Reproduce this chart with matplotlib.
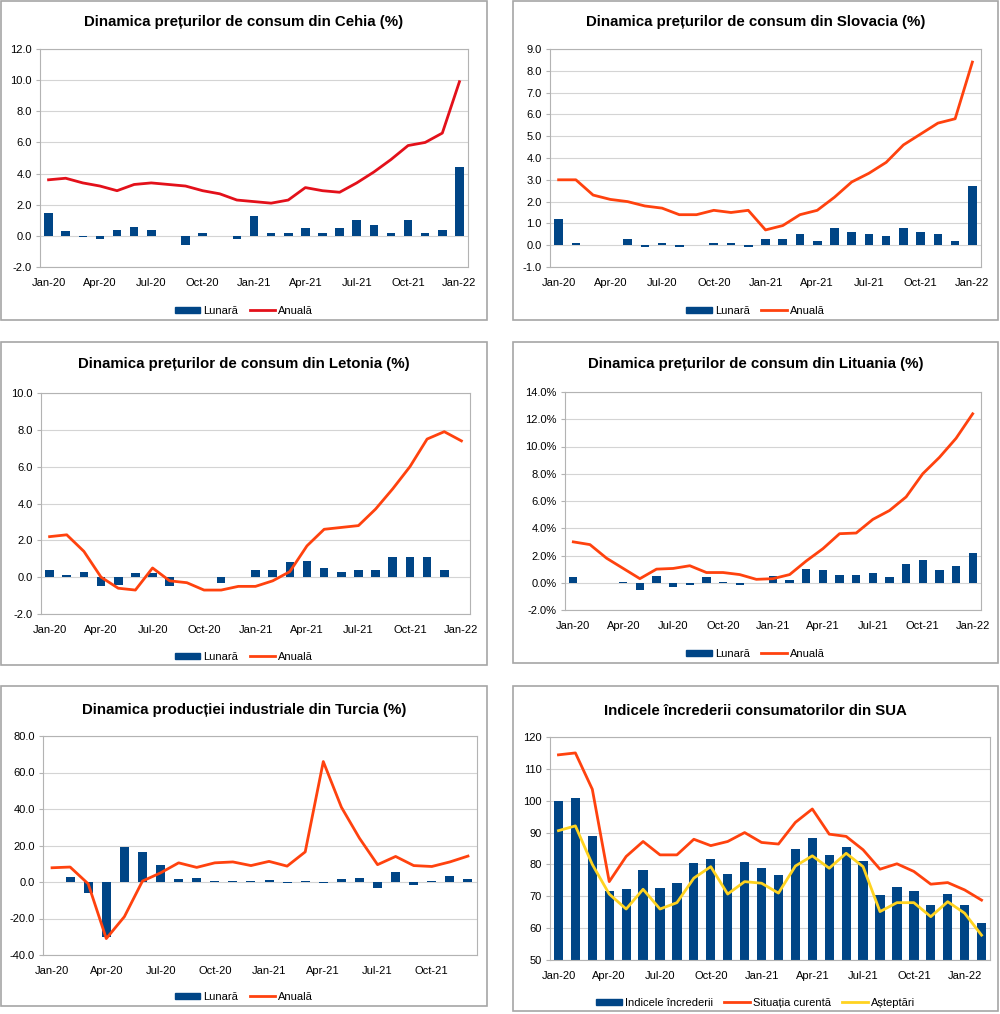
import matplotlib
matplotlib.use("Agg")
import matplotlib.pyplot as plt
import numpy as np
from matplotlib.patches import Rectangle, Patch
from matplotlib.lines import Line2D

plt.rcParams['font.family'] = ['Liberation Sans', 'DejaVu Sans']

# ---- data ----
tick_labels_25 = ['Jan-20', 'Apr-20', 'Jul-20', 'Oct-20', 'Jan-21', 'Apr-21', 'Jul-21', 'Oct-21', 'Jan-22']
tick_labels_tr = ['Jan-20', 'Apr-20', 'Jul-20', 'Oct-20', 'Jan-21', 'Apr-21', 'Jul-21', 'Oct-21']

cz_lunara = [1.5, 0.3, -0.1, -0.2, 0.4, 0.6, 0.4, 0.0, -0.6, 0.2, 0.0, -0.2,
             1.3, 0.2, 0.2, 0.5, 0.2, 0.5, 1.0, 0.7, 0.2, 1.0, 0.2, 0.4, 4.4]
cz_anuala = [3.6, 3.7, 3.4, 3.2, 2.9, 3.3, 3.4, 3.3, 3.2, 2.9, 2.7, 2.3,
             2.2, 2.1, 2.3, 3.1, 2.9, 2.8, 3.4, 4.1, 4.9, 5.8, 6.0, 6.6, 9.9]

sk_lunara = [1.2, 0.1, 0.0, 0.0, 0.3, -0.1, 0.1, -0.1, 0.0, 0.1, 0.1, -0.1,
             0.3, 0.3, 0.5, 0.2, 0.8, 0.6, 0.5, 0.4, 0.8, 0.6, 0.5, 0.2, 2.7]
sk_anuala = [3.0, 3.0, 2.3, 2.1, 2.0, 1.8, 1.7, 1.4, 1.4, 1.6, 1.5, 1.6,
             0.7, 0.9, 1.4, 1.6, 2.2, 2.9, 3.3, 3.8, 4.6, 5.1, 5.6, 5.8, 8.4]

lv_lunara = [0.4, 0.1, 0.3, -0.5, -0.4, 0.2, 0.2, -0.5, 0.0, 0.0, -0.3, 0.0,
             0.4, 0.4, 0.8, 0.9, 0.5, 0.3, 0.4, 0.4, 1.1, 1.1, 1.1, 0.4, 0.0]
lv_anuala = [2.2, 2.3, 1.4, 0.0, -0.6, -0.7, 0.5, -0.2, -0.3, -0.7, -0.7, -0.5,
             -0.5, -0.2, 0.3, 1.7, 2.6, 2.7, 2.8, 3.7, 4.8, 6.0, 7.5, 7.9, 7.4]

lt_lunara = [0.45, 0.0, -0.05, 0.05, -0.5, 0.5, -0.3, -0.2, 0.4, 0.05, -0.15, 0.0,
             0.5, 0.2, 1.0, 0.95, 0.55, 0.55, 0.7, 0.4, 1.4, 1.65, 0.95, 1.2, 2.15]
lt_anuala = [3.0, 2.8, 1.8, 1.05, 0.3, 1.0, 1.05, 1.25, 0.75, 0.75, 0.6, 0.25,
             0.3, 0.6, 1.6, 2.5, 3.6, 3.65, 4.65, 5.3, 6.3, 8.0, 9.2, 10.6, 12.4]

tr_lunara = [0.0, 2.5, -6.0, -30.0, 19.0, 16.5, 9.5, 1.5, 2.0, 0.3, 0.8, 0.8,
             1.0, -0.3, 0.7, -0.8, 1.5, 2.0, -3.5, 5.5, -1.5, 0.4, 3.2, 1.5]
tr_anuala = [7.8, 8.2, -1.0, -31.0, -19.0, 0.5, 5.0, 10.5, 8.0, 10.5, 11.0, 9.0,
             11.3, 8.7, 16.5, 66.0, 41.0, 24.0, 9.5, 14.0, 9.0, 8.5, 11.0, 14.2]

us_incredere = [99.8, 101.0, 89.0, 71.8, 72.3, 78.1, 72.5, 74.1, 80.4, 81.8, 76.9, 80.7,
                79.0, 76.8, 84.9, 88.3, 82.9, 85.5, 81.2, 70.3, 72.8, 71.7, 67.4, 70.6,
                67.2, 61.7]
us_curenta = [114.4, 115.0, 103.6, 74.6, 82.5, 87.2, 83.0, 83.0, 87.9, 85.9, 87.2, 90.0,
              86.9, 86.4, 93.2, 97.4, 89.5, 88.8, 84.6, 78.5, 80.2, 77.8, 73.8, 74.3,
              72.0, 68.8]
us_asteptari = [90.6, 92.1, 80.0, 70.7, 66.0, 72.2, 66.0, 68.0, 75.7, 79.3, 70.7, 74.6,
                74.1, 71.0, 79.5, 82.7, 78.8, 83.5, 79.3, 65.2, 68.0, 68.0, 63.6, 68.3,
                64.7, 57.8]

# ---- style ----
BLUE = '#004586'
ORANGE = '#ff420e'
RED = '#e3101a'
YELLOW = '#ffd320'
GRID = '#d4d4d4'

W, H = 1000, 1014
fig = plt.figure(figsize=(W / 100, H / 100), dpi=100)


def frac(l, t, r, b):
    return [l / W, 1 - b / H, (r - l) / W, (b - t) / H]


def panel(box, ax_box, title, title_y, leg_y):
    l, t, r, b = box
    fig.patches.append(Rectangle((l / W, 1 - b / H), (r - l) / W, (b - t) / H,
                                 transform=fig.transFigure, fill=False,
                                 edgecolor='#a6a6a6', lw=1.2))
    fig.text((l + r) / 2 / W, 1 - title_y / H, title, ha='center', va='center',
             fontsize=10.8, fontweight='bold')
    ax = fig.add_axes(frac(*ax_box))
    for s in ax.spines.values():
        s.set_color('#b3b3b3')
        s.set_linewidth(0.8)
    ax.grid(axis='y', color=GRID, lw=0.8)
    ax.set_axisbelow(True)
    ax.tick_params(axis='y', length=3, color='#b3b3b3', labelsize=8, pad=3)
    ax.tick_params(axis='x', length=0, labelsize=8, pad=8)
    return ax, (l + r) / 2 / W, 1 - leg_y / H


def finish(ax, n, labels, ylim, step, fmt, legend_items, lx, ly):
    ax.set_xlim(-0.5, n - 0.5)
    ax.set_xticks(range(0, n, 3))
    ax.set_xticklabels(labels)
    ax.set_ylim(*ylim)
    ticks = np.arange(ylim[0], ylim[1] + step / 2, step)
    ax.set_yticks(ticks)
    ax.set_yticklabels([fmt.format(v) for v in ticks])
    handles = []
    names = []
    for kind, color, name in legend_items:
        if kind == 'bar':
            handles.append(Patch(facecolor=color, edgecolor=color))
        else:
            handles.append(Line2D([], [], color=color, lw=2))
        names.append(name)
    fig.legend(handles, names, loc='center', bbox_to_anchor=(lx, ly),
               bbox_transform=fig.transFigure, ncol=len(handles), frameon=False,
               fontsize=8, handlelength=2.3, handletextpad=0.3,
               columnspacing=1.0, handleheight=0.55)


def price_panel(box, ax_box, title, ty, ly, monthly, annual, line_color,
                labels, ylim, step, fmt):
    ax, lx, lyf = panel(box, ax_box, title, ty, ly)
    x = np.arange(len(monthly))
    ax.bar(x, monthly, width=0.5, color=BLUE, zorder=2)
    ax.plot(np.arange(len(annual)), annual, color=line_color, lw=2, zorder=3)
    finish(ax, len(monthly), labels, ylim, step, fmt,
           [('bar', BLUE, 'Lunară'), ('line', line_color, 'Anuală')], lx, lyf)
    return ax


price_panel((1, 1, 487, 320), (40, 49, 468, 267),
            'Dinamica prețurilor de consum din Cehia (%)', 22, 311,
            cz_lunara, cz_anuala, RED, tick_labels_25, (-2, 12), 2, '{:.1f}')

price_panel((513, 1, 998, 320), (550, 49, 981, 267),
            'Dinamica prețurilor de consum din Slovacia (%)', 22, 311,
            sk_lunara, sk_anuala, ORANGE, tick_labels_25, (-1, 9), 1, '{:.1f}')

price_panel((1, 342, 487, 665), (41, 393, 470, 614),
            'Dinamica prețurilor de consum din Letonia (%)', 364, 657,
            lv_lunara, lv_anuala, ORANGE, tick_labels_25, (-2, 10), 2, '{:.1f}')

price_panel((513, 342, 998, 663), (565, 392, 981, 610),
            'Dinamica prețurilor de consum din Lituania (%)', 364, 654,
            lt_lunara, lt_anuala, ORANGE, tick_labels_25, (-2, 14), 2, '{:.1f}%')

price_panel((1, 686, 487, 1006), (43, 736, 477, 955),
            'Dinamica producției industriale din Turcia (%)', 710, 997,
            tr_lunara, tr_anuala, ORANGE, tick_labels_tr, (-40, 80), 20, '{:.1f}')

# US consumer confidence
ax, lx, lyf = panel((513, 686, 998, 1011), (550, 737, 990, 960),
                    'Indicele încrederii consumatorilor din SUA', 711, 1003)
x = np.arange(len(us_incredere))
ax.bar(x, us_incredere, width=0.55, color=BLUE, zorder=2)
ax.plot(x, us_curenta, color=ORANGE, lw=2, zorder=3)
ax.plot(x, us_asteptari, color=YELLOW, lw=2, zorder=4)
finish(ax, len(us_incredere), tick_labels_25, (50, 120), 10, '{:.0f}',
       [('bar', BLUE, 'Indicele încrederii'), ('line', ORANGE, 'Situația curentă'),
        ('line', YELLOW, 'Așteptări')], lx, lyf)

fig.savefig('out.png', dpi=100)
